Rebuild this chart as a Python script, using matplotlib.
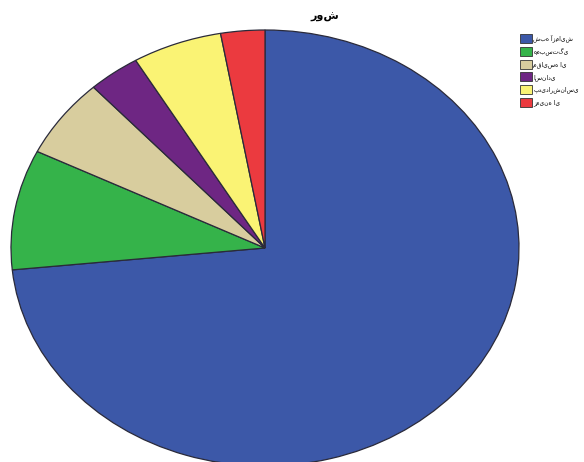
import matplotlib
matplotlib.use("Agg")
import matplotlib.pyplot as plt
from matplotlib.patches import Patch

plt.rcParams['font.family'] = ['DejaVu Sans']

title = "روش"
labels = ["شبه آزمایش", "همبستگی", "مقایسه ای", "اسنادی", "پدیدارشناسی", "زمینه ای"]
values = [73.4, 8.9, 5.9, 3.3, 5.7, 2.8]
colors = ["#3C58A8", "#35B34A", "#D8CD9E", "#6E2683", "#FAF374", "#EB3A3F"]

fig = plt.figure(figsize=(5.84, 4.62), dpi=100)
W, H = 584, 462
cx, cy, rx, ry = 265, 248, 254, 218
ax = fig.add_axes([(cx - rx) / W, 1 - (cy + ry) / H, 2 * rx / W, 2 * ry / H])
ax.pie(values, colors=colors, startangle=90, counterclock=False, radius=1,
       wedgeprops=dict(edgecolor="#2a2a3a", linewidth=0.9))
ax.set_aspect('auto')
ax.set_xlim(-1, 1)
ax.set_ylim(-1, 1)
ax.axis('off')

fig.text(325 / W, 1 - 17 / H, title, ha='center', va='center', fontsize=8, fontweight='bold')

handles = [Patch(facecolor=c, edgecolor="#333333", linewidth=0.6) for c in colors]
fig.legend(handles, labels, loc='upper left', bbox_to_anchor=(519 / W, 1 - 33 / H),
           frameon=False, fontsize=4.3, handlelength=1.9, handleheight=2.0,
           handletextpad=0.3, labelspacing=0.58, borderpad=0.2, borderaxespad=0)

fig.savefig("out.png", dpi=100)
